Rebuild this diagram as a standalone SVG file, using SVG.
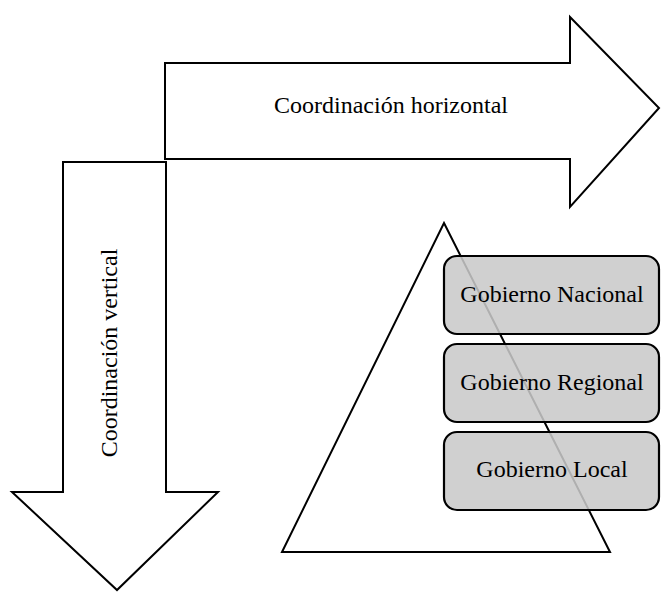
<svg xmlns="http://www.w3.org/2000/svg" width="661" height="592" viewBox="0 0 661 592">
  <style>
    .shape { fill: #ffffff; stroke: #000000; stroke-width: 2; stroke-linejoin: miter; }
    .level { fill: #c9c9c9; fill-opacity: 0.87; stroke: #000000; stroke-width: 2.2; }
    .label { font-family: "Liberation Serif", "Times New Roman", serif; font-size: 24px; fill: #000000; text-anchor: middle; }
  </style>
  <rect width="661" height="592" fill="#ffffff"/>

  <!-- Downward arrow: vertical coordination -->
  <g id="vertical-arrow">
    <polygon class="shape" points="63,162 166,162 166,492 218,492 117,590 12,492 63,492"/>
    <text class="label" transform="translate(116.5,353) rotate(-90)" x="0" y="0">Coordinación vertical</text>
  </g>

  <!-- Rightward arrow: horizontal coordination -->
  <g id="horizontal-arrow">
    <polygon class="shape" points="165,63 570,63 570,17 659,108 570,207 570,159 165,159"/>
    <text class="label" x="391" y="113">Coordinación horizontal</text>
  </g>

  <!-- Government hierarchy pyramid -->
  <g id="pyramid">
    <polygon class="shape" points="444,223 610,552 282,552"/>
  </g>

  <g id="gobierno-nacional">
    <rect class="level" x="444" y="256" width="215" height="78" rx="13" ry="13"/>
    <text class="label" x="552" y="302">Gobierno Nacional</text>
  </g>

  <g id="gobierno-regional">
    <rect class="level" x="444" y="344" width="215" height="78" rx="13" ry="13"/>
    <text class="label" x="552" y="390">Gobierno Regional</text>
  </g>

  <g id="gobierno-local">
    <rect class="level" x="444" y="432" width="215" height="78" rx="13" ry="13"/>
    <text class="label" x="552" y="477">Gobierno Local</text>
  </g>

  <g id="connectors"></g>
</svg>
